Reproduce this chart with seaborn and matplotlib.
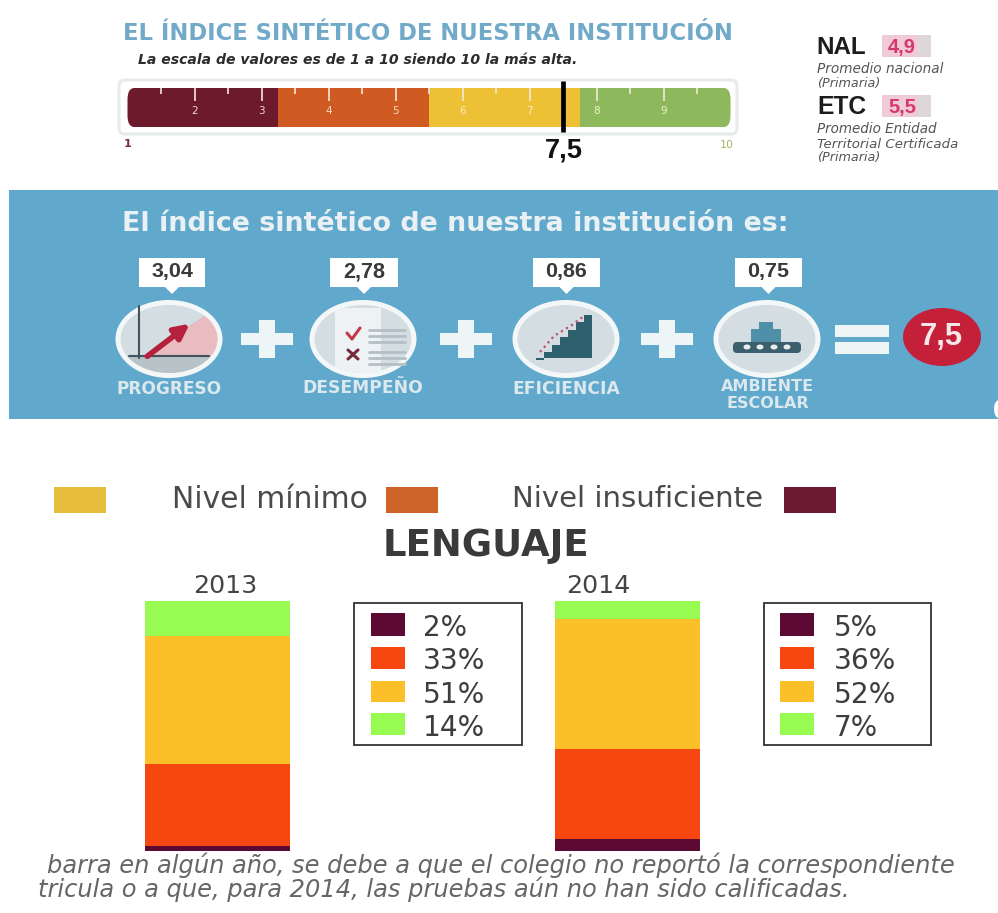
import matplotlib
matplotlib.use("Agg")
import matplotlib.pyplot as plt
import seaborn as sns
from matplotlib.patches import Ellipse, Rectangle, Polygon, FancyBboxPatch, FancyArrowPatch

sns.set_theme(style="white")
plt.rcParams["font.family"] = ["DejaVu Sans"]

# ---------- data ----------
years = ["2013", "2014"]
levels = ["Insuficiente", "Mínimo", "Satisfactorio", "Avanzado"]
lenguaje_2013 = [2, 33, 51, 14]
lenguaje_2014 = [5, 36, 52, 7]
bar_colors = ["#5c0a33", "#f5470f", "#fbbf29", "#98fb52"]

gauge_edges = [1, 3.25, 5.5, 7.75, 10]
gauge_colors = ["#6d1a2c", "#cf5a22", "#eec035", "#8db85c"]
gauge_value = 7.5
gauge_ticks = [2, 3, 4, 5, 6, 7, 8, 9]

components = ["PROGRESO", "DESEMPEÑO", "EFICIENCIA", "AMBIENTE\nESCOLAR"]
component_values = ["3,04", "2,78", "0,86", "0,75"]

W, H = 998, 913
fig = plt.figure(figsize=(W / 100, H / 100), dpi=100, facecolor="white")
ov = fig.add_axes([0, 0, 1, 1], zorder=1)
ov.set_xlim(0, W)
ov.set_ylim(H, 0)
ov.axis("off")


def fit(s, x0, x1, y, color="#333333", weight="normal", style="normal",
        family="DejaVu Sans", zorder=10):
    """Text centred on y whose width spans x0..x1 in pixels."""
    t = ov.text((x0 + x1) / 2, y, s, ha="center", va="center", color=color,
                fontweight=weight, fontstyle=style, family=family, fontsize=10,
                zorder=zorder)
    r = fig.canvas.get_renderer()
    t.set_fontsize(10 * (x1 - x0) / t.get_window_extent(r).width)
    return t


def rect(x0, y0, x1, y1, color, z=2, **kw):
    p = Rectangle((x0, y0), x1 - x0, y1 - y0, fc=color, ec="none", zorder=z, **kw)
    ov.add_patch(p)
    return p


def poly(pts, color, z=5, clip=None):
    p = Polygon(pts, closed=True, fc=color, ec="none", zorder=z)
    ov.add_patch(p)
    if clip is not None:
        p.set_clip_path(clip)
    return p


# ---------- header ----------
fit("EL ÍNDICE SINTÉTICO DE NUESTRA INSTITUCIÓN", 122, 733, 33, "#71a9c8", "bold")
fit("La escala de valores es de 1 a 10 siendo 10 la más alta.", 139, 577, 60,
    "#2c2c2c", "bold", "italic")

ov.add_patch(FancyBboxPatch((119, 80), 618, 54, boxstyle="round,pad=0,rounding_size=6",
                            fc="#ffffff", ec="#e6ecea", lw=2.2, zorder=2))

# ---------- gauge on its own 1..10 scale ----------
gx0, gx1, gy0, gy1 = 127.5, 730.5, 88, 127
gauge = fig.add_axes([gx0 / W, 1 - gy1 / H, (gx1 - gx0) / W, (gy1 - gy0) / H], zorder=2)
gauge.patch.set_alpha(0)
for i, c in enumerate(gauge_colors):
    gauge.barh(0, gauge_edges[i + 1] - gauge_edges[i], left=gauge_edges[i], height=1,
               color=c, edgecolor="none", zorder=1)
gauge.set_xlim(1, 10)
gauge.set_ylim(-0.5, 0.5)
clip = FancyBboxPatch((1, -0.5), 9, 1, boxstyle="round,pad=0,rounding_size=0.1",
                      transform=gauge.transData, fc="none", ec="none", mutation_aspect=3)
gauge.add_patch(clip)
for b in gauge.patches[:4]:
    b.set_clip_path(clip)
for s in gauge.spines.values():
    s.set_visible(False)
gauge.set_axisbelow(False)
gauge.set_yticks([])
gauge.set_xticks(gauge_ticks)
gauge.set_xticks([v + 0.5 for v in range(1, 10)], minor=True)
gauge.tick_params(axis="x", which="major", direction="in", top=True, bottom=False,
                  labelbottom=False, length=9, width=1.2, color="#f4ead8")
gauge.tick_params(axis="x", which="minor", direction="in", top=True, bottom=False,
                  labelbottom=False, length=4, width=1.2, color="#f4ead8")
for v in gauge_ticks:
    gauge.text(v, -0.08, str(v), ha="center", va="center", fontsize=7.5,
               color="#f0d9c0" if v < 6 else "#f7efc8", family="DejaVu Sans")
gauge.plot([gauge_value, gauge_value], [-0.62, 0.69], color="black", lw=3.4,
           clip_on=False, zorder=6, solid_capstyle="butt")

ov.text(128, 144, "1", ha="center", va="center", color="#7a2a3a", fontsize=8, fontweight="bold")
ov.text(727, 145, "10", ha="center", va="center", color="#a9b56a", fontsize=8)
fit("7,5", 545, 583, 151, "#111111", "bold", family="Liberation Sans")

# ---------- national / ETC block ----------
fit("NAL", 817, 866, 47, "#1d1d1d", "bold", family="Liberation Sans")
fit("ETC", 817, 866, 107, "#1d1d1d", "bold", family="Liberation Sans")
for y0, y1, val in [(35, 57, "4,9"), (95, 117, "5,5")]:
    rect(882, y0, 931, y1, "#dfd6da")
    rect(882, y0, 918, y1, "#eecbd6", z=3)
    fit(val, 888, 916, (y0 + y1) / 2 + 1, "#d8366f", "bold", family="Liberation Sans")
fit("Promedio nacional", 817, 943, 69, "#555555", style="italic")
fit("(Primaria)", 817, 880, 83, "#555555", style="italic")
fit("Promedio Entidad", 817, 937, 129, "#555555", style="italic")
fit("Territorial Certificada", 817, 958, 144, "#555555", style="italic")
fit("(Primaria)", 817, 880, 158, "#555555", style="italic")

# ---------- blue panel ----------
rect(9, 190, W, 419, "#60a8cc", z=1)
ov.add_patch(Ellipse((999, 409), 10, 18, fc="white", ec="none", zorder=2))
fit("El índice sintético de nuestra institución es:", 122, 788, 224, "#e9f1f4", "bold")

centers = [169, 363, 566, 767]
boxes = [(139, 205), (330, 398), (533, 600), (735, 802)]
cy = 339
for cx, (b0, b1), val in zip(centers, boxes, component_values):
    rect(b0, 258, b1, 287, "white", z=3)
    mid = (b0 + b1) / 2
    poly([(mid - 8, 286), (mid + 8, 286), (mid, 294)], "white", z=3)
    fit(val, mid - 21, mid + 21, 272, "#3a3a3a", "bold", family="Liberation Sans")

disks = []
for cx in centers:
    ov.add_patch(Ellipse((cx, cy), 107, 78, fc="#f3f7f8", ec="none", zorder=3))
    d = Ellipse((cx, cy), 97, 68, fc="#d3dde2", ec="none", zorder=4)
    ov.add_patch(d)
    disks.append(d)

# progreso icon
cx = centers[0]
poly([(cx - 28, 358), (cx + 50, 306), (cx + 50, 358)], "#e8bcc0", z=5, clip=disks[0])
rect(cx - 50, 356, cx + 50, 380, "#b9c2c6", z=5).set_clip_path(disks[0])
ov.plot([cx - 30, cx - 30], [306, 358], color="#41525c", lw=1.5, zorder=6)
ov.plot([cx - 40, cx + 40], [356, 356], color="#41525c", lw=1.5, zorder=6)
ov.add_patch(FancyArrowPatch((cx - 24, 358), (cx + 23, 322), arrowstyle="-|>", mutation_scale=22,
                             color="#b5213c", lw=4, zorder=7))
# desempeño icon
cx = centers[1]
rect(cx - 28, 308, cx + 18, 374, "#eef2f4", z=5).set_clip_path(disks[1])
ov.plot([cx - 16, cx - 11, cx - 3], [333, 339, 328], color="#c0394f", lw=2.2, zorder=6)
ov.plot([cx - 15, cx - 5], [350, 359], color="#7a2a3a", lw=2.2, zorder=6)
ov.plot([cx - 5, cx - 15], [350, 359], color="#7a2a3a", lw=2.2, zorder=6)
for y in [330, 336, 342, 352, 358, 364]:
    ov.plot([cx + 6, cx + 42], [y, y], color="#b4bfc5", lw=2, zorder=6)
# eficiencia icon
cx = centers[2]
steps = [(-30, 360), (-22, 352), (-14, 345), (-6, 337), (2, 330), (10, 322), (18, 315), (26, 320)]
for (dx, top) in steps[:-1]:
    rect(cx + dx, top, cx + dx + 8, 358, "#2e5f6c", z=5)
ov.plot([cx - 26, cx - 12, cx + 6, cx + 18], [352, 336, 325, 316], color="#c0506a", lw=1.6,
        ls=":", zorder=6)
# ambiente icon
cx = centers[3]
rect(cx - 16, 329, cx + 14, 342, "#4f8fa8", z=5)
rect(cx - 8, 322, cx + 6, 330, "#4f8fa8", z=5)
ov.add_patch(FancyBboxPatch((cx - 34, 342), 68, 11, boxstyle="round,pad=0,rounding_size=4",
                            fc="#3c5f6e", ec="none", zorder=6))
for dx in (-20, -7, 7, 20):
    ov.add_patch(Ellipse((cx + dx, 347), 7, 5, fc="#e8eef0", ec="none", zorder=7))

for x in [267, 466.5, 667]:
    rect(x - 26, cy - 6, x + 26, cy + 6, "#eef5f7", z=3)
    rect(x - 8, cy - 19, x + 8, cy + 19, "#eef5f7", z=3)
rect(835, 325, 889, 337, "#eef5f7", z=3)
rect(835, 342, 889, 354, "#eef5f7", z=3)
ov.add_patch(Ellipse((942, 337), 78, 58, fc="#c4203a", ec="none", zorder=3))
fit("7,5", 920, 963, 337, "#f6e8ea", "bold", family="Liberation Sans")

fit("PROGRESO", 116, 222, 389, "#dbe8ee", "bold")
fit("DESEMPEÑO", 303, 423, 388, "#dbe8ee", "bold")
fit("EFICIENCIA", 513, 620, 389, "#dbe8ee", "bold")
fit("AMBIENTE", 721, 814, 386.5, "#dbe8ee", "bold")
fit("ESCOLAR", 726, 809, 403.5, "#dbe8ee", "bold")

# ---------- legend strip ----------
rect(54, 487, 106, 513, "#e8bc3c")
rect(386, 487, 438, 513, "#cc6328")
rect(784, 487, 836, 513, "#6d1a33")
fit("Nivel mínimo", 172, 368, 499, "#4a4a4a")
fit("Nivel insuficiente", 513, 763, 499, "#4a4a4a")
fit("LENGUAJE", 382, 589, 545, "#3a3a3a", "bold")
fit("2013", 193, 257, 586, "#444444")
fit("2014", 566, 630, 586, "#444444")

# ---------- stacked bars ----------
bar_x0, bar_x1 = 217.5, 627
px_per_cat = bar_x1 - bar_x0
ax = fig.add_axes([0, 1 - 851 / H, 1, 250 / H], zorder=2)
ax.patch.set_alpha(0)
sns.despine(ax=ax, left=True, bottom=True)
bottom = [0, 0]
for i, (lev, c) in enumerate(zip(levels, bar_colors)):
    vals = [lenguaje_2013[i], lenguaje_2014[i]]
    sns.barplot(x=years, y=vals, bottom=bottom, color=c, saturation=1, width=145 / px_per_cat,
                ax=ax, errorbar=None, linewidth=0)
    bottom = [bottom[0] + vals[0], bottom[1] + vals[1]]
ax.set_xlim(-bar_x0 / px_per_cat, (W - bar_x0) / px_per_cat)
ax.set_ylim(0, 100)
ax.set_xticks([])
ax.set_yticks([])
ax.set_xlabel("")
ax.set_ylabel("")

# ---------- value boxes ----------
rows = [(613, 636), (647, 669), (681, 702), (713, 735)]
text_y = [628, 661, 695, 728]
for (bx0, bx1, sx0, sx1, tx, vals) in [(354.5, 522, 371, 405, 423, lenguaje_2013),
                                       (764, 931, 780, 814, 834, lenguaje_2014)]:
    ov.add_patch(Rectangle((bx0, 603), bx1 - bx0, 142, fc="white", ec="#333333", lw=1.3, zorder=2))
    for (y0, y1), y, v, c in zip(rows, text_y, vals, bar_colors):
        rect(sx0, y0, sx1, y1, c, z=3)
        w = 44 if v < 10 else 62
        fit(f"{v}%", tx, tx + w, y, "#3d3d3d")

# ---------- footnote ----------
fit("barra en algún año, se debe a que el colegio no reportó la correspondiente", 48, 953, 865,
    "#666666", style="italic")
fit("tricula o a que, para 2014, las pruebas aún no han sido calificadas.", 39, 848, 889,
    "#666666", style="italic")

fig.savefig("out.png", dpi=100, facecolor="white")
